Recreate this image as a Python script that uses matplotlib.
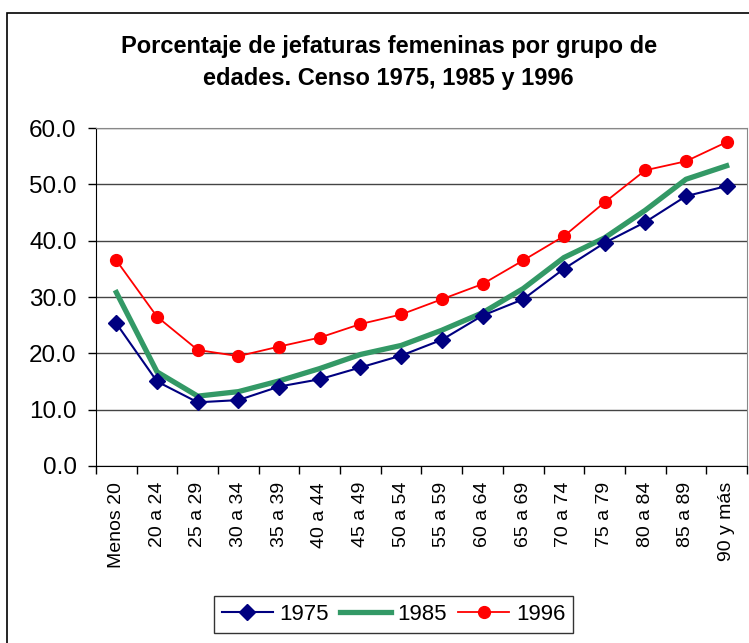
import matplotlib
matplotlib.use('Agg')
import matplotlib.pyplot as plt
from matplotlib.patches import Rectangle


# data
grupos = ['Menos 20', '20 a 24', '25 a 29', '30 a 34', '35 a 39', '40 a 44',
          '45 a 49', '50 a 54', '55 a 59', '60 a 64', '65 a 69', '70 a 74',
          '75 a 79', '80 a 84', '85 a 89', '90 y más']

censo_1975 = [25.3, 15.0, 11.3, 11.7, 14.1, 15.4, 17.5, 19.6,
              22.4, 26.7, 29.6, 35.0, 39.6, 43.3, 47.9, 49.7]
censo_1985 = [30.8, 16.7, 12.4, 13.2, 15.1, 17.3, 19.8, 21.4,
              24.1, 27.2, 31.5, 37.0, 40.5, 45.4, 50.9, 53.3]
censo_1996 = [36.5, 26.5, 20.6, 19.5, 21.2, 22.8, 25.2, 26.9,
              29.6, 32.3, 36.5, 40.8, 46.8, 52.5, 54.1, 57.5]

y_ticks = [0, 10, 20, 30, 40, 50, 60]


if __name__ == '__main__':

    plt.rcParams['font.family'] = ['Liberation Sans', 'DejaVu Sans']

    fig = plt.figure(figsize=(7.49, 6.43), dpi=100)
    ax = fig.add_axes([0.1282, 0.2753, 0.8691, 0.5256])

    x = list(range(len(grupos)))

    ax.plot(x, censo_1975, color='#000080', lw=1.5, marker='D', ms=8.5,
            label='1975', zorder=3)
    ax.plot(x, censo_1985, color='#339966', lw=3.8, label='1985', zorder=2)
    ax.plot(x, censo_1996, color='#FF0000', lw=1.3, marker='o', ms=8.5,
            label='1996', zorder=4)

    ###########################################################################
    # AXES
    ###########################################################################
    ax.set_xlim(-0.5, len(grupos) - 0.5)
    ax.set_ylim(0, 60)
    ax.set_yticks(y_ticks)
    ax.set_yticklabels(['%.1f' % v for v in y_ticks], fontsize=17.5)
    ax.tick_params(axis='y', direction='out', length=6, width=1, pad=8)

    ax.set_xticks(x)
    ax.set_xticklabels(grupos, rotation=90, fontsize=14)
    ax.tick_params(axis='x', which='major', length=0, pad=11.5)
    ax.set_xticks([i - 0.5 for i in range(len(grupos) + 1)], minor=True)
    ax.tick_params(axis='x', which='minor', direction='out', length=6,
                   width=1)

    ax.grid(axis='y', color='#444444', lw=1.0)
    ax.set_axisbelow(True)
    ax.spines['left'].set_color('black')
    ax.spines['bottom'].set_color('black')
    ax.spines['top'].set_color('#888888')
    ax.spines['right'].set_color('#888888')

    ###########################################################################
    # TITLE, LEGEND, BORDER
    ###########################################################################
    fig.text(0.519, 0.9028,
             'Porcentaje de jefaturas femeninas por grupo de\n'
             'edades. Censo 1975, 1985 y 1996',
             ha='center', va='center', fontsize=17, fontweight='bold',
             linespacing=1.45)

    leg = ax.legend(loc='center', bbox_to_anchor=(0.5254, 0.0443),
                    bbox_transform=fig.transFigure, ncol=3, fontsize=16,
                    frameon=True, fancybox=False, handlelength=2.3,
                    handletextpad=0.3, columnspacing=0.5, borderpad=0.35,
                    borderaxespad=0)
    leg.get_frame().set_edgecolor('black')
    leg.get_frame().set_linewidth(1.0)

    fig.add_artist(Rectangle((7 / 749, -0.1), 1.2, 0.1 + (1 - 13 / 643),
                             transform=fig.transFigure, fill=False,
                             edgecolor='black', lw=1.2, clip_on=False))

    plt.savefig('out.png', dpi=100)
